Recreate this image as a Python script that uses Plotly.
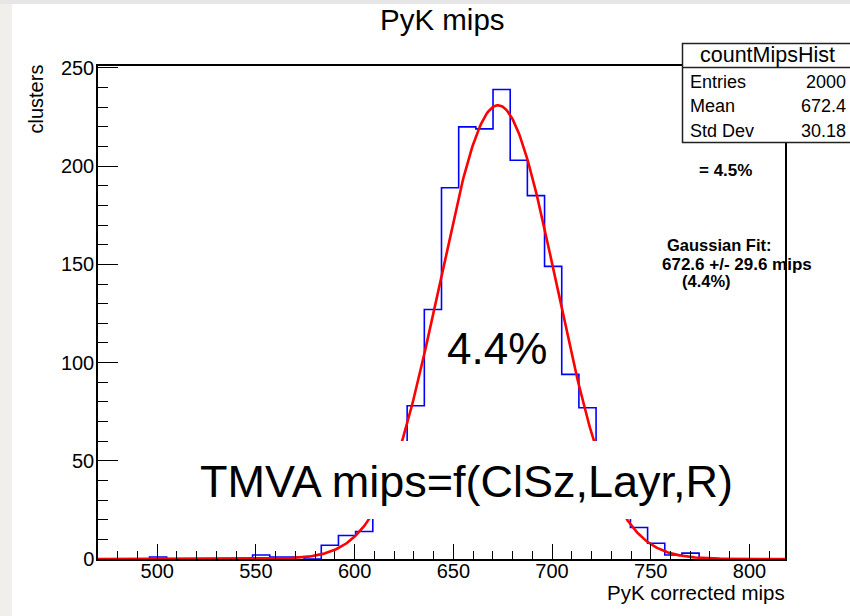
import numpy as np
import plotly.graph_objects as go

# ---------------- data ----------------
X_MIN = 470.0
X_MAX = 818.0
N_BINS = 40
bin_counts = [0, 0, 0, 1, 0, 0, 0, 0, 0, 2,
              1, 1, 0, 7, 12, 14, 30, 55, 78, 127,
              189, 220, 219, 239, 203, 185, 149, 94, 77, 44,
              24, 16, 8, 2, 3, 0, 0, 0, 0, 0]

FIT_AMP = 231.0
FIT_MEAN = 672.6
FIT_SIGMA = 29.6

x_ticks = [500, 550, 600, 650, 700, 750, 800]
y_ticks = [0, 50, 100, 150, 200, 250]

stats_title = "countMipsHist"
stats_labels = ["Entries", "Mean", "Std Dev"]
stats_values = ["2000", "672.4", "30.18"]

# ---------------- geometry ----------------
W, H = 850, 616
ML, MR, MT, MB = 98, 65, 66, 57
PW = W - ML - MR
PH = H - MT - MB


def px(X):
    return (X - ML) / PW


def py(Y):
    return (H - MB - Y) / PH


FONT = "Liberation Sans, Arial, Helvetica, sans-serif"

edges = np.linspace(X_MIN, X_MAX, N_BINS + 1)
hist_x = list(edges)
hist_y = list(bin_counts) + [bin_counts[-1]]

fit_x = np.linspace(X_MIN, X_MAX, 600)
fit_y = FIT_AMP * np.exp(-0.5 * ((fit_x - FIT_MEAN) / FIT_SIGMA) ** 2)

fig = go.Figure()
fig.add_trace(go.Scatter(x=hist_x, y=hist_y, mode="lines",
                         line=dict(color="#0000ff", width=1.6, shape="hv"),
                         hoverinfo="skip", showlegend=False))
fig.add_trace(go.Scatter(x=fit_x, y=fit_y, mode="lines",
                         line=dict(color="#ff0000", width=2.6),
                         hoverinfo="skip", showlegend=False))

shapes = []
# slide-like gray edges
shapes.append(dict(type="rect", xref="paper", yref="paper",
                   x0=px(-2), x1=px(12), y0=py(-2), y1=py(H + 2),
                   fillcolor="#f0efeb", line=dict(width=0), layer="below"))
shapes.append(dict(type="rect", xref="paper", yref="paper",
                   x0=px(-2), x1=px(W + 2), y0=py(-2), y1=py(4),
                   fillcolor="#e6e6e6", line=dict(width=0), layer="below"))
# white box behind the big TMVA label
shapes.append(dict(type="rect", xref="paper", yref="paper",
                   x0=px(190), x1=px(745), y0=py(519), y1=py(441),
                   fillcolor="white", line=dict(width=0), layer="above"))
# stats box
shapes.append(dict(type="rect", xref="paper", yref="paper",
                   x0=px(682.5), x1=px(853), y0=py(142.5), y1=py(43.5),
                   fillcolor="white", line=dict(color="#222222", width=1.5),
                   layer="above"))
shapes.append(dict(type="line", xref="paper", yref="paper",
                   x0=px(682.5), x1=px(853), y0=py(67.5), y1=py(67.5),
                   line=dict(color="#222222", width=1.5), layer="above"))

ann = []


def add_text(text, X, Y, size, xanchor="center", bold=False, angle=0):
    t = f"<b>{text}</b>" if bold else text
    ann.append(dict(text=t, x=px(X), y=py(Y), xref="paper", yref="paper",
                    xanchor=xanchor, yanchor="middle", showarrow=False,
                    textangle=angle,
                    font=dict(family=FONT, size=size, color="black")))


add_text("PyK mips", 442, 20, 29.5)
add_text("clusters", 35.5, 99, 20, angle=-90)
ann.append(dict(text="PyK corrected mips", x=px(787), y=py(592), xref="paper",
                yref="paper", xanchor="right", yanchor="middle", showarrow=False,
                font=dict(family=FONT, size=20.5, color="black")))
add_text("TMVA mips=f(ClSz,Layr,R)", 466.5, 481, 45)
add_text("4.4%", 497, 348, 44)

add_text(stats_title, 767.5, 55.5, 21.5)
for i, (lab, val) in enumerate(zip(stats_labels, stats_values)):
    yy = 82 + 24.3 * i
    add_text(lab, 688, yy, 18, xanchor="left")
    ann.append(dict(text=val, x=px(848), y=py(yy), xref="paper", yref="paper",
                    xanchor="right", yanchor="middle", showarrow=False,
                    font=dict(family=FONT, size=18, color="black")))

add_text("= 4.5%", 697, 171, 17, xanchor="left", bold=True)
add_text("Gaussian Fit:", 664.5, 245, 16.5, xanchor="left", bold=True)
add_text("672.6 +/- 29.6 mips", 659.5, 264, 17, xanchor="left", bold=True)
add_text("(4.4%)", 679.5, 281, 16.5, xanchor="left", bold=True)

fig.update_layout(
    width=W, height=H,
    margin=dict(l=ML, r=MR, t=MT, b=MB),
    paper_bgcolor="white", plot_bgcolor="white",
    shapes=shapes, annotations=ann,
    font=dict(family=FONT, color="black"),
    showlegend=False,
)
fig.update_xaxes(
    range=[X_MIN, X_MAX], tickvals=x_ticks, ticktext=[str(v) for v in x_ticks],
    ticks="inside", ticklen=15, tickwidth=1.3, tickcolor="black",
    minor=dict(dtick=10, tick0=0, ticks="inside", ticklen=8, tickwidth=1.3,
               tickcolor="black", showgrid=False),
    showline=True, linecolor="black", linewidth=1.5, mirror=True,
    showgrid=False, zeroline=False, ticklabelstandoff=-7,
    tickfont=dict(family=FONT, size=20, color="black"),
)
fig.update_yaxes(
    range=[0, 251], tickvals=y_ticks, ticktext=[str(v) for v in y_ticks],
    ticks="inside", ticklen=20, tickwidth=1.3, tickcolor="black",
    minor=dict(dtick=10, tick0=0, ticks="inside", ticklen=10, tickwidth=1.3,
               tickcolor="black", showgrid=False),
    showline=True, linecolor="black", linewidth=1.5, mirror=True,
    showgrid=False, zeroline=False, ticklabelstandoff=-2,
    tickfont=dict(family=FONT, size=20, color="black"),
)

fig.write_html(
    "out.html",
    config={"displayModeBar": False},
    post_script="document.body.style.margin='0px';document.body.style.overflow='hidden';",
)
